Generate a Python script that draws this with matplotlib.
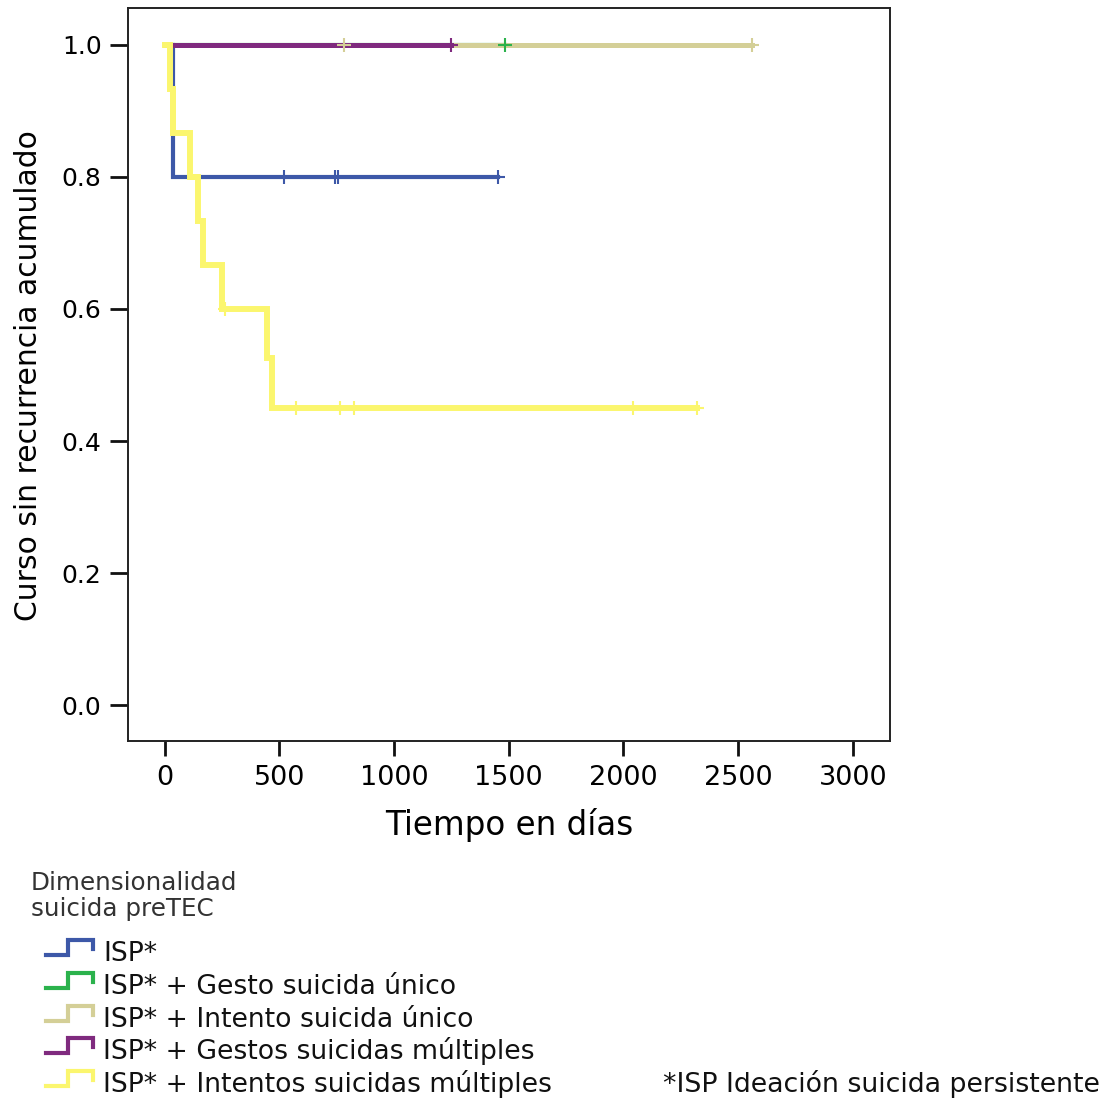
import matplotlib
matplotlib.use("Agg")
import matplotlib.pyplot as plt
from matplotlib.lines import Line2D

plt.rcParams['font.family'] = ['DejaVu Sans']

# ---- data ----
groups = ["ISP*",
          "ISP* + Gesto suicida único",
          "ISP* + Intento suicida único",
          "ISP* + Gestos suicidas múltiples",
          "ISP* + Intentos suicidas múltiples"]
colors = ["#3d58a8", "#2bb24c", "#d4cf97", "#7f2a7e", "#fbf66e"]

blue_t = [0, 35, 1451]
blue_s = [1.0, 0.8, 0.8]
blue_ct = [519, 743, 756, 1451]
blue_cs = [0.8, 0.8, 0.8, 0.8]

green_t = [0, 1485]
green_s = [1.0, 1.0]
green_ct = [1485]
green_cs = [1.0]

khaki_t = [0, 2559]
khaki_s = [1.0, 1.0]
khaki_ct = [783, 2559]
khaki_cs = [1.0, 1.0]

purple_t = [0, 1247]
purple_s = [1.0, 1.0]
purple_ct = [1247]
purple_cs = [1.0]

yellow_t = [0, 22, 38, 110, 144, 166, 250, 446, 468, 2320]
yellow_s = [1.0, 0.933, 0.867, 0.800, 0.733, 0.667, 0.600, 0.525, 0.450, 0.450]
yellow_ct = [265, 572, 766, 826, 2043, 2320]
yellow_cs = [0.600, 0.450, 0.450, 0.450, 0.450, 0.450]

xticks = [0, 500, 1000, 1500, 2000, 2500, 3000]
yticks = [0.0, 0.2, 0.4, 0.6, 0.8, 1.0]
xlabel = "Tiempo en días"
ylabel = "Curso sin recurrencia acumulado"
legend_title = "Dimensionalidad\nsuicida preTEC"
footnote = "*ISP Ideación suicida persistente"

# ---- figure ----
W, H = 1112, 1099
fig = plt.figure(figsize=(W / 100, H / 100), dpi=100)
ax = fig.add_axes([128 / W, 1 - 741 / H, (890 - 128) / W, (741 - 8) / H])

series = [
    (blue_t, blue_s, blue_ct, blue_cs, colors[0], 3.0, 2),
    (green_t, green_s, green_ct, green_cs, colors[1], 3.0, 3),
    (khaki_t, khaki_s, khaki_ct, khaki_cs, colors[2], 3.6, 4),
    (purple_t, purple_s, purple_ct, purple_cs, colors[3], 3.6, 5),
    (yellow_t, yellow_s, yellow_ct, yellow_cs, colors[4], 4.3, 6),
]
for t, s, ct, cs, c, lw, z in series:
    ax.step(t, s, where='post', color=c, lw=lw, zorder=z, solid_joinstyle='miter')
for t, s, ct, cs, c, lw, z in series:
    ax.plot(ct, cs, linestyle='none', marker='+', markersize=10, mew=1.5,
            color=c, zorder=z + 10)

ax.set_xlim(-160, 3162)
ax.set_ylim(-0.0545, 1.056)
ax.set_xticks(xticks)
ax.set_xticklabels([str(v) for v in xticks], fontsize=19.5)
ax.set_yticks(yticks)
ax.set_yticklabels([f"{v:.1f}" for v in yticks], fontsize=18)
ax.tick_params(axis='x', direction='out', length=11, width=2, pad=6, color='#111')
ax.tick_params(axis='y', direction='out', length=13, width=2, pad=6, color='#111')
for sp in ax.spines.values():
    sp.set_linewidth(1.4)
    sp.set_color('#222')

ax.set_xlabel(xlabel, fontsize=23.5)
ax.xaxis.set_label_coords(0.5, -0.0914)
ax.xaxis.label.set_va('top')
ax.set_ylabel(ylabel, fontsize=21.4)
ax.yaxis.set_label_coords(-0.1115, 0.499)

# ---- legend (drawn in figure pixels) ----
def fx(px):
    return px / W

def fy(py):
    return 1 - py / H

fig.text(fx(31), fy(896), legend_title, fontsize=17.7, color='#333',
         ha='left', va='center', linespacing=1.1)

base = 961
step = 32.8
for i, (g, c) in enumerate(zip(groups, colors)):
    b = base + i * step
    xs = [fx(46), fx(68), fx(68), fx(93), fx(93)]
    ys = [fy(b - 6), fy(b - 6), fy(b - 21), fy(b - 21), fy(b - 12)]
    fig.add_artist(Line2D(xs, ys, color=c, lw=3.0, solid_joinstyle='miter',
                          transform=fig.transFigure))
    fig.text(fx(103), fy(b), g, fontsize=19.2, color='#111',
             ha='left', va='baseline')

fig.text(fx(663), fy(base + 4 * step), footnote, fontsize=19.3, color='#111',
         ha='left', va='baseline')

fig.savefig("out.png", dpi=100)
